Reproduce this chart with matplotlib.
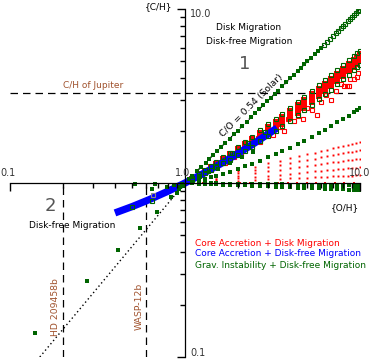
import matplotlib
matplotlib.use("Agg")
import matplotlib.pyplot as plt
from matplotlib.markers import TICKDOWN, TICKLEFT

plt.rcParams['font.family'] = ['DejaVu Sans']

W, H = 374, 359

# ---------------- data ----------------
# Grav. instability, solar C/O track (upper straight line)
gi_top_oh_low = [0.139, 0.275, 0.414, 0.553, 0.692, 0.83, 0.97]
gi_top_ch_low = [0.137, 0.273, 0.412, 0.551, 0.68, 0.831, 0.96]
gi_top_oh = [1.05, 1.1, 1.17, 1.24, 1.31, 1.38, 1.45, 1.53, 1.61, 1.7, 1.8, 1.9, 2.0, 2.12, 2.25,
             2.38, 2.52, 2.66, 2.8, 2.95, 3.1, 3.25, 3.4, 3.6, 3.8, 4.0, 4.2, 4.4, 4.6, 4.8, 5.0,
             5.25, 5.5, 5.75, 6.0]
gi_top_ch = [1.05, 1.1, 1.17, 1.24, 1.31, 1.38, 1.45, 1.53, 1.61, 1.7, 1.8, 1.9, 2.0, 2.12, 2.25,
             2.38, 2.52, 2.66, 2.8, 2.95, 3.1, 3.25, 3.4, 3.6, 3.8, 4.0, 4.2, 4.4, 4.6, 4.8, 5.0,
             5.25, 5.5, 5.75, 6.0]
gi_top_oh_open = [6.25, 6.5, 6.75, 7.0, 7.25, 7.5, 7.75, 8.0, 8.25, 8.5, 8.75, 9.0, 9.25, 9.5, 9.7, 9.87]
gi_top_ch_open = [6.25, 6.5, 6.75, 7.0, 7.25, 7.5, 7.75, 8.0, 8.25, 8.5, 8.75, 9.0, 9.25, 9.5, 9.7, 9.87]

# common O/H grid for the tracks on the right
oh_grid = [1.1, 1.2, 1.3, 1.4, 1.5, 1.65, 1.8, 2.0, 2.2, 2.4, 2.7, 3.0, 3.3, 3.6, 4.0, 4.4, 4.8,
           5.3, 5.8, 6.3, 6.8, 7.4, 8.0, 8.6, 9.2, 9.6, 10.0]
gi_open_upper = [1.065, 1.129, 1.192, 1.255, 1.316, 1.407, 1.496, 1.613, 1.729, 1.842, 2.011, 2.176,
                 2.339, 2.501, 2.715, 2.925, 3.133, 3.392, 3.650, 3.904, 4.156, 4.460, 4.760, 5.060,
                 5.358, 5.557, 5.754]
gi_open_lower = [1.047, 1.093, 1.138, 1.184, 1.228, 1.295, 1.360, 1.447, 1.533, 1.618, 1.746, 1.871,
                 1.996, 2.121, 2.286, 2.452, 2.616, 2.822, 3.028, 3.234, 3.442, 3.692, 3.943, 4.194,
                 4.448, 4.617, 4.786]
gi_mid = [1.020, 1.041, 1.061, 1.082, 1.102, 1.133, 1.164, 1.205, 1.246, 1.286, 1.346, 1.405, 1.464,
          1.522, 1.599, 1.675, 1.750, 1.843, 1.935, 2.026, 2.118, 2.227, 2.335, 2.442, 2.549, 2.620,
          2.692]
gi_low_a = [0.996, 0.993, 0.989, 0.986, 0.984, 0.980, 0.976, 0.972, 0.968, 0.965, 0.960, 0.956, 0.952,
            0.949, 0.945, 0.941, 0.938, 0.934, 0.930, 0.927, 0.924, 0.921, 0.918, 0.916, 0.913, 0.911,
            0.910]
gi_low_b = [0.999, 0.997, 0.996, 0.995, 0.994, 0.993, 0.991, 0.990, 0.988, 0.987, 0.985, 0.984, 0.982,
            0.981, 0.979, 0.978, 0.977, 0.975, 0.974, 0.973, 0.972, 0.970, 0.969, 0.968, 0.967, 0.967,
            0.966]
gi_small_oh = [1.2, 1.37, 1.545, 1.81, 2.12, 2.45]
gi_small_ch = [1.08, 1.15, 1.20, 1.30, 1.41, 1.51]
gi_scatter_oh = [0.518, 0.674, 0.789, 0.647, 0.94, 0.9, 0.86, 0.96, 0.92]
gi_scatter_ch = [0.99, 0.99, 0.948, 0.924, 0.95, 0.876, 0.97, 0.985, 0.92]
gi_scatter_open_oh = [0.498, 0.647, 1.86, 2.29, 2.86]
gi_scatter_open_ch = [0.728, 0.788, 1.49, 1.70, 1.96]
grey_oh = [0.657]
grey_ch = [0.853]

# Core accretion + disk migration: filled band
ca_band_1 = [1.050, 1.099, 1.147, 1.195, 1.242, 1.313, 1.382, 1.474, 1.565, 1.656, 1.790, 1.923, 2.056,
             2.188, 2.364, 2.538, 2.713, 2.931, 3.150, 3.369, 3.589, 3.852, 4.118, 4.385, 4.653, 4.832,
             5.012]
ca_band_2 = [1.056, 1.111, 1.165, 1.219, 1.271, 1.350, 1.427, 1.528, 1.628, 1.727, 1.874, 2.018, 2.161,
             2.303, 2.491, 2.678, 2.863, 3.094, 3.324, 3.553, 3.783, 4.057, 4.331, 4.607, 4.882, 5.065,
             5.248]
ca_band_3 = [1.060, 1.120, 1.178, 1.236, 1.293, 1.377, 1.459, 1.568, 1.675, 1.781, 1.938, 2.093, 2.245,
             2.396, 2.597, 2.795, 2.991, 3.236, 3.479, 3.721, 3.963, 4.251, 4.539, 4.826, 5.114, 5.305,
             5.495]
# Core accretion + disk migration: open squares below the band
ca_open_oh = [1.3, 1.4, 1.5, 1.6, 1.7, 1.8, 1.9, 2.0, 2.1, 2.3, 2.4, 2.6, 2.7, 2.9, 3.1, 3.2, 3.5, 3.7,
              3.9, 4.2, 4.4, 4.7, 5.0, 5.3, 5.7, 6.0, 6.4, 6.8, 7.3, 7.8, 8.4, 8.8, 9.3, 9.8, 2.2, 3.0,
              4.0, 1.2, 1.25, 8.1, 8.7, 9.6]
ca_open_ch = [1.155, 1.224, 1.235, 1.313, 1.304, 1.423, 1.405, 1.516, 1.471, 1.648, 1.619, 1.808, 1.710,
              1.854, 1.994, 1.896, 2.094, 2.001, 2.326, 2.266, 2.433, 2.343, 2.713, 2.631, 2.473, 2.930,
              3.221, 2.982, 3.363, 3.723, 3.586, 3.936, 3.986, 4.310, 1.656, 2.065, 2.428, 1.116, 1.118,
              3.61, 3.61, 4.06]
# Core accretion + disk migration: small dots fan
fan_oh = [1.2, 1.5, 2.0, 2.5, 3.0, 3.5, 4.0, 4.5, 5.0, 5.5, 6.0, 6.5, 7.0, 7.5, 8.0, 8.5, 9.0, 9.5, 10.0]
fan_1 = [1.044, 1.100, 1.178, 1.241, 1.296, 1.344, 1.387, 1.426, 1.462, 1.495, 1.526, 1.555, 1.583,
         1.609, 1.634, 1.657, 1.680, 1.701, 1.722]
fan_2 = [1.035, 1.080, 1.141, 1.190, 1.232, 1.269, 1.301, 1.331, 1.358, 1.382, 1.406, 1.427, 1.447,
         1.466, 1.484, 1.501, 1.517, 1.533, 1.549]
fan_3 = [1.026, 1.058, 1.102, 1.137, 1.166, 1.192, 1.214, 1.234, 1.253, 1.270, 1.285, 1.300, 1.313,
         1.326, 1.338, 1.349, 1.360, 1.370, 1.380]
fan_4 = [1.017, 1.037, 1.064, 1.086, 1.104, 1.119, 1.133, 1.145, 1.156, 1.166, 1.175, 1.184, 1.191,
         1.199, 1.206, 1.212, 1.219, 1.225, 1.230]
fan_5 = [1.008, 1.018, 1.032, 1.042, 1.051, 1.058, 1.064, 1.070, 1.075, 1.080, 1.084, 1.088, 1.091,
         1.095, 1.098, 1.101, 1.104, 1.106, 1.109]
fan_axis_oh = [1.26, 1.43, 1.62, 1.83, 2.07, 2.35, 2.66, 3.01, 3.41, 3.86, 4.37, 4.95, 5.61, 6.35,
               7.19, 8.14, 9.22]
fan_axis_ch = [0.995, 0.995, 0.995, 0.995, 0.995, 0.995, 0.995, 0.995, 0.995, 0.995, 0.995, 0.995,
               0.995, 0.995, 0.995, 0.995, 0.995]

# Core accretion + disk-free migration: blue band
cf_oh = [0.398, 0.501, 0.631, 0.794, 1.0, 1.259, 1.585, 1.995, 2.512, 3.357]
cf_ch = [0.673, 0.733, 0.806, 0.894, 1.0, 1.128, 1.283, 1.472, 1.703, 2.070]

# reference lines
solar_oh = [0.148, 1.0, 10.0]
solar_ch = [0.1, 1.0, 10.0]
jupiter_ch = 3.3
planet_names = ["HD 209458b", "WASP-12b"]
planet_oh = [0.2, 0.6]
x_tick_labels = ["0.1", "1.0", "10.0"]
y_tick_labels = ["10.0", "1.0", "0.1"]
major_ticks = [0.1, 10.0]
minor_ticks = [0.2, 0.3, 0.4, 0.5, 0.6, 0.7, 0.8, 0.9, 2, 3, 4, 5, 6, 7, 8, 9]
legend_labels = ["Core Accretion + Disk Migration",
                 "Core Accretion + Disk-free Migration",
                 "Grav. Instability + Disk-free Migration"]

GREEN = '#006400'
RED = '#ff0000'
BLUE = '#0000ff'
BROWN = '#a0522d'

# ---------------- figure ----------------
fig = plt.figure(figsize=(W / 100, H / 100), dpi=100)
ax = fig.add_axes([10 / W, 2 / H, 350 / W, 348 / H])
ax.set_xscale('log')
ax.set_yscale('log')
ax.set_xlim(0.1, 10)
ax.set_ylim(0.1, 10)
ax.set_xticks([])
ax.set_yticks([])
ax.set_xticks([], minor=True)
ax.set_yticks([], minor=True)

for s in ['top', 'right']:
    ax.spines[s].set_visible(False)
ax.spines['left'].set_position(('data', 1.0))
ax.spines['bottom'].set_position(('data', 1.0))
for s in ['left', 'bottom']:
    ax.spines[s].set_linewidth(0.9)

# tick marks on the crossing axes
ax.plot(minor_ticks, [1.0] * len(minor_ticks), ls='none', marker=TICKDOWN, ms=3.4, mew=1.0,
        color='black', clip_on=False, zorder=5)
ax.plot(major_ticks, [1.0] * len(major_ticks), ls='none', marker=TICKDOWN, ms=5.5, mew=1.0,
        color='black', clip_on=False, zorder=5)
ax.plot([1.0] * len(minor_ticks), minor_ticks, ls='none', marker=TICKLEFT, ms=3.4, mew=1.0,
        color='black', clip_on=False, zorder=5)
ax.plot([1.0] * len(major_ticks), major_ticks, ls='none', marker=TICKLEFT, ms=5.5, mew=1.0,
        color='black', clip_on=False, zorder=5)

# reference lines
ax.plot([0.1, 10], [jupiter_ch, jupiter_ch], color='black', lw=0.9, ls=(0, (6, 4)))
for xo in planet_oh:
    ax.plot([xo, xo], [0.1, 1.0], color='black', lw=0.9, ls=(0, (6, 4)))
ax.plot(solar_oh, solar_ch, color='black', lw=1.0, ls=(0, (1, 2)))

# core accretion + disk migration
for fy in (fan_1, fan_2, fan_3, fan_4, fan_5):
    ax.plot(fan_oh, fy, ls='none', marker='s', ms=1.4, color=RED, mew=0)
ax.plot(fan_axis_oh, fan_axis_ch, ls='none', marker='s', ms=1.6, color=RED, mew=0)
ax.plot(ca_open_oh, ca_open_ch, ls='none', marker='s', ms=3.4, mfc='none', mec=RED, mew=0.8)
for by in (ca_band_1, ca_band_2, ca_band_3):
    ax.plot(oh_grid, by, ls='none', marker='s', ms=4.6, color=RED, mew=0)

# core accretion + disk-free migration
ax.plot(cf_oh, cf_ch, color=BLUE, lw=5.2, solid_capstyle='butt')

# grav. instability
ax.plot(oh_grid, gi_open_upper, ls='none', marker='s', ms=3.4, mfc='none', mec=GREEN, mew=0.8)
ax.plot(oh_grid, gi_open_lower, ls='none', marker='s', ms=3.4, mfc='none', mec=GREEN, mew=0.8)
ax.plot(oh_grid, gi_mid, ls='none', marker='s', ms=2.6, color=GREEN, mew=0)
ax.plot(oh_grid, gi_low_a, ls='none', marker='s', ms=2.6, color=GREEN, mew=0)
ax.plot(oh_grid, gi_low_b, ls='none', marker='s', ms=2.2, color=GREEN, mew=0)
ax.plot(gi_small_oh, gi_small_ch, ls='none', marker='s', ms=2.6, color=GREEN, mew=0)
ax.plot(gi_top_oh, gi_top_ch, ls='none', marker='s', ms=2.6, color=GREEN, mew=0)
ax.plot(gi_top_oh_open, gi_top_ch_open, ls='none', marker='s', ms=3.2, mfc='none', mec=GREEN, mew=0.8)
ax.plot(gi_top_oh_low, gi_top_ch_low, ls='none', marker='s', ms=3.0, color=GREEN, mew=0)
ax.plot(gi_scatter_oh, gi_scatter_ch, ls='none', marker='s', ms=3.0, color=GREEN, mew=0)
ax.plot(gi_scatter_open_oh, gi_scatter_open_ch, ls='none', marker='s', ms=3.0, mfc='none', mec=GREEN, mew=0.8)
ax.plot(grey_oh, grey_ch, ls='none', marker='s', ms=3.0, mfc='none', mec='#888888', mew=0.8)


def ftext(px, py, s, **kw):
    fig.text(px / W, 1 - py / H, s, **kw)


FS = 6.5
# tick labels
ftext(8, 173, x_tick_labels[0], ha='center', va='center', fontsize=FS + 0.4, color='#333333')
ftext(183, 173, x_tick_labels[1], ha='center', va='center', fontsize=FS + 0.4, color='#333333')
ftext(360, 173, x_tick_labels[2], ha='center', va='center', fontsize=FS + 0.4, color='#333333')
ftext(190, 14, y_tick_labels[0], ha='left', va='center', fontsize=FS + 0.4, color='#333333')
ftext(190, 353, y_tick_labels[2], ha='left', va='center', fontsize=FS + 0.4, color='#333333')
# axis names
ftext(172, 7, '{C/H}', ha='right', va='center', fontsize=FS)
ftext(359, 208, '{O/H}', ha='right', va='center', fontsize=FS)
# quadrants
ftext(249, 28, 'Disk Migration', ha='center', va='center', fontsize=FS)
ftext(249, 42, 'Disk-free Migration', ha='center', va='center', fontsize=FS)
ftext(245, 64, '1', ha='center', va='center', fontsize=13, color='#555555')
ftext(50, 206, '2', ha='center', va='center', fontsize=13, color='#555555')
ftext(72, 225, 'Disk-free Migration', ha='center', va='center', fontsize=FS)
# reference line labels
ftext(93, 86, 'C/H of Jupiter', ha='center', va='center', fontsize=FS, color=BROWN)
ftext(55, 307, planet_names[0], ha='center', va='center', fontsize=FS + 0.2, color=BROWN, rotation=90)
ftext(139, 306, planet_names[1], ha='center', va='center', fontsize=FS + 0.2, color=BROWN, rotation=90)
ftext(251, 106, 'C/O = 0.54 (Solar)', ha='center', va='center', fontsize=FS + 0.2, rotation=45,
      rotation_mode='anchor')
# legend
ftext(195, 243, legend_labels[0], ha='left', va='center', fontsize=FS, color=RED)
ftext(195, 254, legend_labels[1], ha='left', va='center', fontsize=FS, color=BLUE)
ftext(195, 265, legend_labels[2], ha='left', va='center', fontsize=FS, color=GREEN)

fig.savefig('out.png', dpi=100)
